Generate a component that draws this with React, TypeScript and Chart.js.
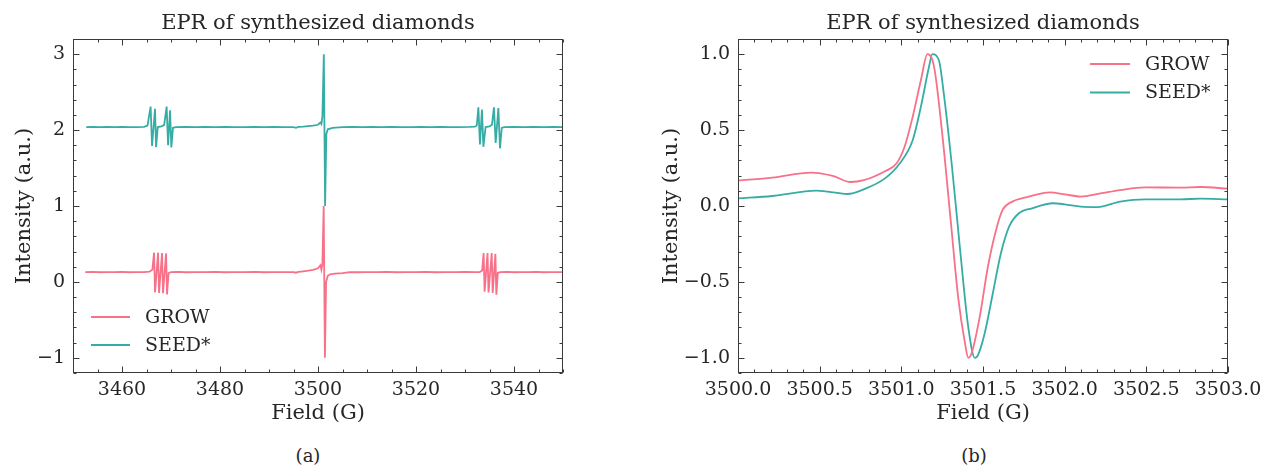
import React, { useEffect, useRef } from 'react';
import { Chart, registerables } from 'chart.js';

Chart.register(...registerables);

const GROW_COLOR = '#f77189';
const SEED_COLOR = '#36ada4';
const FONT_FAMILY = "'DejaVu Serif', serif";
const TEXT_COLOR = '#262626';
const FRAME_COLOR = '#3a3a3a';

const seriesLabels = ['GROW', 'SEED*'];
const chartTitle = 'EPR of synthesized diamonds';
const xAxisTitle = 'Field (G)';
const yAxisTitle = 'Intensity (a.u.)';
const captions = ['(a)', '(b)'];

// ---------- (a) wide scan ----------
const wideXTicks = [3460, 3480, 3500, 3520, 3540];
const wideYTicks = [-1, 0, 1, 2, 3];

const growWideField = [
  3452.5, 3454.0, 3455.5, 3457.0, 3458.5, 3460.0, 3461.5, 3463.0, 3464.5, 3465.6,
  3466.2, 3466.54, 3466.74, 3467.36, 3467.56, 3468.17, 3468.37, 3468.99, 3469.19, 3469.5,
  3470.0, 3471.5, 3473.0, 3475.0, 3477.0, 3479.0, 3481.0, 3483.0, 3485.0, 3487.0,
  3489.0, 3491.0, 3493.0, 3495.0, 3495.5, 3496.0, 3497.0, 3498.0, 3499.0, 3500.0,
  3500.5, 3500.7, 3500.9, 3501.16, 3501.41, 3501.65, 3502.0, 3502.5, 3503.5, 3505.0,
  3506.5, 3508.0, 3510.0, 3512.0, 3514.0, 3516.0, 3518.0, 3520.0, 3522.0, 3524.0,
  3526.0, 3528.0, 3530.0, 3532.0, 3533.0, 3533.5, 3533.8, 3534.0, 3534.6, 3534.8,
  3535.45, 3535.65, 3536.2, 3536.4, 3536.7, 3537.2, 3538.5, 3540.0, 3541.5, 3543.0,
  3544.5, 3546.0, 3547.5, 3549.0, 3550.0,
];
const growWideIntensity = [
  0.128, 0.131, 0.127, 0.130, 0.128, 0.131, 0.127, 0.130, 0.129, 0.135,
  0.160, 0.385, -0.140, 0.385, -0.145, 0.380, -0.150, 0.375, -0.165, 0.115,
  0.128, 0.131, 0.127, 0.130, 0.128, 0.131, 0.127, 0.130, 0.129, 0.131,
  0.127, 0.130, 0.128, 0.130, 0.121, 0.132, 0.140, 0.148, 0.160, 0.180,
  0.220, 0.160, 0.230, 1.000, -1.000, 0.000, 0.080, 0.100, 0.110, 0.116,
  0.130, 0.127, 0.130, 0.128, 0.131, 0.127, 0.130, 0.128, 0.131, 0.127,
  0.130, 0.128, 0.131, 0.129, 0.130, 0.150, 0.380, -0.130, 0.380, -0.140,
  0.380, -0.145, 0.370, -0.170, 0.120, 0.128, 0.131, 0.127, 0.130, 0.128,
  0.131, 0.127, 0.130, 0.128, 0.130,
];

const seedWideField = [
  3452.7, 3454.0, 3455.5, 3457.0, 3458.5, 3460.0, 3461.5, 3463.0, 3464.5, 3465.2,
  3465.84, 3466.13, 3466.74, 3466.95, 3467.3, 3468.0, 3468.6, 3469.11, 3469.4, 3469.81,
  3470.07, 3470.4, 3471.0, 3473.0, 3475.0, 3477.0, 3479.0, 3481.0, 3483.0, 3485.0,
  3487.0, 3489.0, 3491.0, 3493.0, 3495.0, 3495.5, 3496.0, 3497.0, 3499.0, 3500.0,
  3500.5, 3500.7, 3500.9, 3501.19, 3501.45, 3501.7, 3502.0, 3503.0, 3505.0, 3507.0,
  3509.0, 3511.0, 3513.0, 3515.0, 3517.0, 3519.0, 3521.0, 3523.0, 3525.0, 3527.0,
  3529.0, 3531.0, 3532.0, 3532.4, 3532.73, 3533.05, 3533.46, 3533.75, 3534.2, 3535.0,
  3535.5, 3535.91, 3536.26, 3536.81, 3537.14, 3537.5, 3538.0, 3540.0, 3542.0, 3544.0,
  3546.0, 3548.0, 3550.0,
];
const seedWideIntensity = [
  2.040, 2.042, 2.038, 2.041, 2.039, 2.042, 2.038, 2.040, 2.043, 2.060,
  2.310, 1.790, 2.280, 1.775, 2.040, 2.050, 2.065, 2.310, 1.800, 2.260,
  1.770, 2.030, 2.040, 2.042, 2.038, 2.041, 2.039, 2.042, 2.038, 2.040,
  2.042, 2.039, 2.041, 2.038, 2.040, 2.030, 2.042, 2.045, 2.060, 2.070,
  2.100, 2.080, 2.180, 3.000, 1.000, 1.950, 2.010, 2.030, 2.040, 2.042,
  2.038, 2.041, 2.039, 2.042, 2.038, 2.040, 2.042, 2.039, 2.041, 2.038,
  2.040, 2.042, 2.045, 2.060, 2.300, 1.810, 2.270, 1.780, 2.040, 2.050,
  2.070, 2.300, 1.830, 2.290, 1.760, 2.030, 2.040, 2.042, 2.038, 2.041,
  2.039, 2.042, 2.040,
];

// ---------- (b) central line ----------
const zoomXTicks = [3500.0, 3500.5, 3501.0, 3501.5, 3502.0, 3502.5, 3503.0];
const zoomYTicks = [-1.0, -0.5, 0.0, 0.5, 1.0];

const growZoomField = [
  3500.0, 3500.21, 3500.45, 3500.58, 3500.69, 3500.77, 3500.9, 3500.97, 3501.02, 3501.07,
  3501.12, 3501.16, 3501.2, 3501.25, 3501.3, 3501.35, 3501.39, 3501.41, 3501.43, 3501.48,
  3501.53, 3501.58, 3501.62, 3501.68, 3501.78, 3501.91, 3502.0, 3502.1, 3502.22, 3502.34,
  3502.49, 3502.71, 3502.83, 3503.0,
];
const growZoomIntensity = [
  0.167, 0.187, 0.220, 0.198, 0.158, 0.170, 0.229, 0.280, 0.390, 0.590,
  0.830, 1.000, 0.920, 0.480, -0.070, -0.620, -0.905, -1.000, -0.970, -0.730,
  -0.400, -0.158, -0.026, 0.029, 0.062, 0.090, 0.077, 0.062, 0.083, 0.105,
  0.123, 0.121, 0.125, 0.114,
];

const seedZoomField = [
  3500.0, 3500.21, 3500.48, 3500.55, 3500.67, 3500.77, 3500.9, 3500.99, 3501.07, 3501.12,
  3501.17, 3501.19, 3501.23, 3501.26, 3501.31, 3501.36, 3501.41, 3501.45, 3501.47, 3501.51,
  3501.56, 3501.61, 3501.66, 3501.72, 3501.8, 3501.93, 3502.0, 3502.1, 3502.2, 3502.34,
  3502.49, 3502.71, 3502.83, 3503.0,
];
const seedZoomIntensity = [
  0.050, 0.066, 0.101, 0.095, 0.079, 0.110, 0.182, 0.280, 0.435, 0.655,
  0.920, 1.000, 0.960, 0.740, 0.260, -0.290, -0.800, -1.000, -0.980, -0.840,
  -0.576, -0.310, -0.136, -0.048, -0.015, 0.018, 0.011, -0.004, -0.007, 0.029,
  0.044, 0.044, 0.048, 0.044,
];

const toPoints = (xs: number[], ys: number[]) => xs.map((x, i) => ({ x, y: ys[i] }));
const fmt = (v: number, d: number) => {
  const s = Math.abs(v) < 1e-9 ? (0).toFixed(d) : v.toFixed(d);
  return s.replace('-', '\u2212');
};

const frameTicksPlugin = {
  id: 'frameTicks',
  afterDraw(chart: any, _args: any, opts: any) {
    const { ctx, chartArea: a } = chart;
    const xs = chart.scales.x;
    const ys = chart.scales.y;
    const L = Math.round(a.left) + 0.5;
    const R = Math.round(a.right) - 0.5;
    const T = Math.round(a.top) + 0.5;
    const B = Math.round(a.bottom) - 0.5;
    ctx.save();
    ctx.strokeStyle = FRAME_COLOR;
    ctx.lineWidth = 1;
    ctx.strokeRect(L, T, R - L, B - T);
    const major = 6;
    const minor = 3;
    const near = (v: number, arr: number[], tol: number) => arr.some((m) => Math.abs(m - v) < tol);
    ctx.beginPath();
    const xTickLine = (v: number, len: number) => {
      const p = Math.round(xs.getPixelForValue(v)) + 0.5;
      ctx.moveTo(p, B); ctx.lineTo(p, B - len);
      ctx.moveTo(p, T); ctx.lineTo(p, T + len);
    };
    const yTickLine = (v: number, len: number) => {
      const p = Math.round(ys.getPixelForValue(v)) + 0.5;
      ctx.moveTo(L, p); ctx.lineTo(L + len, p);
      ctx.moveTo(R, p); ctx.lineTo(R - len, p);
    };
    opts.xMajor.forEach((v: number) => xTickLine(v, major));
    opts.yMajor.forEach((v: number) => yTickLine(v, major));
    const xs0 = Math.ceil(xs.min / opts.xMinor - 1e-6);
    const xs1 = Math.floor(xs.max / opts.xMinor + 1e-6);
    for (let n = xs0; n <= xs1; n++) {
      const v = n * opts.xMinor;
      if (!near(v, opts.xMajor, opts.xMinor / 2)) xTickLine(v, minor);
    }
    const ys0 = Math.ceil(ys.min / opts.yMinor - 1e-6);
    const ys1 = Math.floor(ys.max / opts.yMinor + 1e-6);
    for (let n = ys0; n <= ys1; n++) {
      const v = n * opts.yMinor;
      if (!near(v, opts.yMajor, opts.yMinor / 2)) yTickLine(v, minor);
    }
    ctx.stroke();
    ctx.restore();
  },
};

const lineLegendPlugin = {
  id: 'lineLegend',
  afterDraw(chart: any, _args: any, opts: any) {
    const { ctx } = chart;
    ctx.save();
    ctx.font = `19px ${FONT_FAMILY}`;
    ctx.textBaseline = 'middle';
    ctx.textAlign = 'left';
    chart.data.datasets.forEach((ds: any, i: number) => {
      const y = opts.y + i * opts.gap;
      ctx.strokeStyle = ds.borderColor;
      ctx.lineWidth = 1.8;
      ctx.beginPath();
      ctx.moveTo(opts.x, y);
      ctx.lineTo(opts.x + opts.len, y);
      ctx.stroke();
      ctx.fillStyle = TEXT_COLOR;
      ctx.fillText(ds.label, opts.x + opts.len + opts.textGap, y + 1);
    });
    ctx.restore();
  },
};

interface PanelProps {
  datasets: any[];
  xMin: number; xMax: number; yMin: number; yMax: number;
  xTicks: number[]; yTicks: number[];
  xDec: number; yDec: number;
  xMinor: number; yMinor: number;
  yAxisWidth: number; rightPad: number;
  yTitlePad: number;
  legend: { x: number; y: number; gap: number; len: number; textGap: number };
  smooth: boolean;
}

function Panel(p: PanelProps) {
  const ref = useRef<HTMLCanvasElement | null>(null);
  useEffect(() => {
    if (!ref.current) return;
    const bigFont = { family: FONT_FAMILY, size: 21, weight: 'normal' as const };
    const tickFont = { family: FONT_FAMILY, size: 19, weight: 'normal' as const };
    const chart = new Chart(ref.current, {
      type: 'scatter',
      data: {
        datasets: p.datasets.map((d) => ({
          ...d,
          showLine: true,
          pointRadius: 0,
          borderWidth: 1.8,
          tension: p.smooth ? 0.4 : 0,
          cubicInterpolationMode: p.smooth ? 'monotone' : 'default',
          fill: false,
        })),
      },
      options: {
        animation: false,
        responsive: false,
        devicePixelRatio: 1,
        layout: { padding: { left: 0, right: p.rightPad, top: 0, bottom: 0 } },
        plugins: {
          legend: { display: false },
          tooltip: { enabled: false },
          title: {
            display: true,
            text: chartTitle,
            color: TEXT_COLOR,
            font: bigFont,
            fullSize: false,
            padding: { top: 10.5, bottom: 3.3 },
          },
          frameTicks: { xMajor: p.xTicks, yMajor: p.yTicks, xMinor: p.xMinor, yMinor: p.yMinor },
          lineLegend: p.legend,
        } as any,
        scales: {
          x: {
            type: 'linear',
            min: p.xMin,
            max: p.xMax,
            grid: { display: false, drawTicks: false },
            border: { display: false },
            ticks: {
              color: TEXT_COLOR,
              font: tickFont,
              padding: 6,
              maxRotation: 0,
              autoSkip: false,
              callback: (v: any) => fmt(Number(v), p.xDec),
            },
            title: { display: true, text: xAxisTitle, color: TEXT_COLOR, font: bigFont, padding: { top: 1.5, bottom: 4 } },
            afterBuildTicks: (s: any) => { s.ticks = p.xTicks.map((value) => ({ value })); },
            afterFit: (s: any) => { s.height = 57; },
          },
          y: {
            type: 'linear',
            min: p.yMin,
            max: p.yMax,
            grid: { display: false, drawTicks: false },
            border: { display: false },
            ticks: {
              color: TEXT_COLOR,
              font: tickFont,
              padding: 8,
              autoSkip: false,
              callback: (v: any) => fmt(Number(v), p.yDec),
            },
            title: { display: true, text: yAxisTitle, color: TEXT_COLOR, font: bigFont, padding: { top: p.yTitlePad, bottom: 4 } },
            afterBuildTicks: (s: any) => { s.ticks = p.yTicks.map((value) => ({ value })); },
            afterFit: (s: any) => { s.width = p.yAxisWidth; },
          },
        },
      } as any,
      plugins: [frameTicksPlugin, lineLegendPlugin],
    });
    return () => chart.destroy();
  }, []);
  return <canvas ref={ref} width={634} height={430} style={{ display: 'block' }} />;
}

const captionStyle: React.CSSProperties = {
  position: 'absolute',
  top: 444,
  width: 60,
  textAlign: 'center',
  fontFamily: FONT_FAMILY,
  fontSize: 18,
  color: TEXT_COLOR,
  lineHeight: '24px',
};

export default function App() {
  const wideSets = [
    { label: seriesLabels[0], data: toPoints(growWideField, growWideIntensity), borderColor: GROW_COLOR },
    { label: seriesLabels[1], data: toPoints(seedWideField, seedWideIntensity), borderColor: SEED_COLOR },
  ];
  const zoomSets = [
    { label: seriesLabels[0], data: toPoints(growZoomField, growZoomIntensity), borderColor: GROW_COLOR },
    { label: seriesLabels[1], data: toPoints(seedZoomField, seedZoomIntensity), borderColor: SEED_COLOR },
  ];
  return (
    <div style={{ position: 'fixed', left: 0, top: 0, width: 1268, height: 469, background: '#fff' }}>
      <div style={{ position: 'absolute', left: 0, top: 0 }}>
        <Panel
          datasets={wideSets}
          xMin={3450} xMax={3550} yMin={-1.2} yMax={3.2}
          xTicks={wideXTicks} yTicks={wideYTicks}
          xDec={0} yDec={0}
          xMinor={5} yMinor={0.2}
          yAxisWidth={73} rightPad={71}
          yTitlePad={11.5}
          legend={{ x: 91, y: 317, gap: 28, len: 39, textGap: 15 }}
          smooth={false}
        />
      </div>
      <div style={{ position: 'absolute', left: 634, top: 0 }}>
        <Panel
          datasets={zoomSets}
          xMin={3500} xMax={3503} yMin={-1.1} yMax={1.1}
          xTicks={zoomXTicks} yTicks={zoomYTicks}
          xDec={1} yDec={1}
          xMinor={0.1} yMinor={0.1}
          yAxisWidth={104} rightPad={40}
          yTitlePad={24.5}
          legend={{ x: 456, y: 64, gap: 28.5, len: 40, textGap: 15 }}
          smooth={true}
        />
      </div>
      <div style={{ ...captionStyle, left: 308 - 30 }}>{captions[0]}</div>
      <div style={{ ...captionStyle, left: 974 - 30 }}>{captions[1]}</div>
    </div>
  );
}
